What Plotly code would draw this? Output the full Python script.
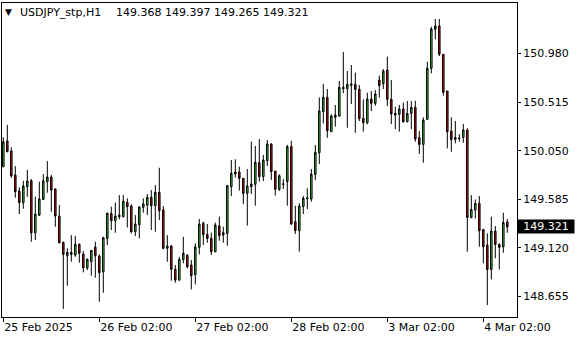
import plotly.graph_objects as go

# H1 bars of USDJPY_stp, 25 Feb 2025 02:00 .. 4 Mar 2025 08:00 (127 bars)
opens = [149.897,150.143,150.047,149.817,149.664,149.553,149.706,149.763,149.265,149.434,
         149.584,149.753,149.798,149.683,149.425,149.173,149.045,149.058,149.052,149.154,
         149.061,148.930,148.988,149.128,149.042,148.892,149.211,149.450,149.380,149.419,
         149.419,149.556,149.521,149.275,149.342,149.508,149.530,149.604,149.524,149.651,
         149.482,149.116,149.138,148.915,148.812,149.010,149.052,148.956,148.864,149.125,
         149.355,149.249,149.212,149.084,149.330,149.266,149.259,149.706,149.827,149.846,
         149.786,149.642,149.706,149.729,149.936,149.802,149.955,150.114,149.856,149.681,
         149.729,149.754,150.089,149.371,149.285,149.515,149.591,149.588,149.823,150.031,
         150.423,150.560,150.232,150.369,150.382,150.656,150.643,150.688,150.685,150.637,
         150.359,150.318,150.544,150.503,150.726,150.691,150.822,150.541,150.407,150.398,
         150.449,150.327,150.407,150.465,150.174,150.110,150.350,150.838,151.211,151.243,
         150.972,150.621,150.238,150.158,150.165,150.177,150.248,149.412,149.482,149.546,
         149.297,149.147,148.914,149.281,149.153,149.131,149.368]
highs = [150.178,150.296,150.082,149.903,149.699,149.763,149.865,149.779,149.610,149.753,
         149.827,149.951,149.817,149.690,149.530,149.179,149.116,149.243,149.234,149.163,
         149.090,149.020,149.100,149.179,149.058,149.227,149.460,149.514,149.553,149.626,
         149.626,149.594,149.537,149.434,149.521,149.594,149.635,149.674,149.722,149.887,
         149.521,149.243,149.147,148.956,149.036,149.227,149.058,149.004,149.163,149.396,
         149.371,149.348,149.266,149.362,149.419,149.323,149.722,149.961,149.968,149.897,
         149.786,149.875,150.137,150.095,150.162,150.009,150.153,150.121,149.856,149.824,
         149.779,150.105,150.146,149.524,149.547,149.617,149.690,149.875,150.104,150.560,
         150.688,150.640,150.398,150.487,150.717,150.994,150.812,150.870,150.796,150.678,
         150.541,150.605,150.621,150.630,150.768,150.831,150.949,150.726,150.471,150.487,
         150.512,150.525,150.525,150.528,150.238,150.369,150.902,151.236,151.310,151.310,
         150.972,150.621,150.369,150.334,150.209,150.305,150.264,149.626,149.584,149.616,
         149.297,149.259,149.418,149.329,149.163,149.457,149.397]
lows = [149.891,150.034,149.792,149.600,149.444,149.495,149.610,149.179,149.195,149.425,
        149.578,149.648,149.466,149.323,149.163,148.535,148.758,148.988,149.036,148.978,
        148.886,148.908,148.854,148.835,148.605,148.691,149.147,149.291,149.265,149.393,
        149.412,149.316,149.259,149.233,149.211,149.457,149.434,149.291,149.275,149.387,
        149.106,148.988,148.806,148.787,148.806,148.972,148.924,148.723,148.771,149.058,
        149.147,149.170,149.052,149.078,149.189,149.170,149.141,149.617,149.792,149.668,
        149.540,149.333,149.636,149.524,149.754,149.760,149.904,149.770,149.620,149.665,
        149.684,149.524,149.339,149.253,149.084,149.444,149.492,149.562,149.769,149.922,
        150.311,150.174,150.232,150.280,150.375,150.599,150.270,150.496,150.222,150.334,
        150.232,150.302,150.429,150.480,150.557,150.640,150.477,150.305,150.257,150.232,
        150.318,150.321,150.257,150.136,150.018,149.935,150.343,150.790,151.115,150.956,
        150.576,150.072,150.040,150.120,150.136,150.126,149.083,149.402,149.402,149.131,
        148.972,148.573,148.819,149.020,148.914,149.074,149.265]
closes = [150.136,150.041,149.808,149.658,149.553,149.712,149.760,149.265,149.444,149.588,
          149.760,149.798,149.674,149.425,149.170,149.058,149.077,149.077,149.154,149.068,
          148.930,149.010,149.096,149.045,148.883,149.218,149.450,149.380,149.425,149.434,
          149.568,149.514,149.275,149.348,149.511,149.540,149.604,149.524,149.651,149.476,
          149.116,149.138,148.915,148.812,149.010,149.068,148.940,148.854,149.128,149.348,
          149.246,149.211,149.084,149.339,149.237,149.244,149.716,149.834,149.846,149.786,
          149.642,149.712,149.732,149.939,149.802,149.961,150.114,149.850,149.681,149.811,
          149.731,150.089,149.349,149.285,149.521,149.594,149.597,149.827,150.034,150.429,
          150.560,150.241,150.382,150.391,150.656,150.643,150.685,150.675,150.637,150.356,
          150.318,150.544,150.503,150.592,150.672,150.812,150.541,150.401,150.391,150.449,
          150.327,150.407,150.465,150.162,150.110,150.343,150.838,151.214,151.243,150.972,
          150.608,150.232,150.158,150.177,150.171,150.248,149.412,149.488,149.546,149.284,
          149.131,148.914,149.281,149.153,149.125,149.364,149.321]

bar_index = list(range(len(opens)))
date_tick_bars = [0, 24, 48, 72, 96, 120]
date_tick_labels = ["25 Feb 2025", "26 Feb 02:00", "27 Feb 02:00",
                    "28 Feb 02:00", "3 Mar 02:00", "4 Mar 02:00"]
price_ticks = [148.655, 149.120, 149.585, 150.050, 150.515, 150.980]
symbol = "USDJPY_stp,H1"
last_price = closes[-1]

FONT = "DejaVu Sans"

fig = go.Figure()
fig.add_trace(go.Candlestick(
    x=bar_index, open=opens, high=highs, low=lows, close=closes,
    increasing=dict(fillcolor="#2EDC2E", line=dict(color="black", width=1)),
    decreasing=dict(fillcolor="#DD0000", line=dict(color="black", width=1)),
    whiskerwidth=0, hoverinfo="skip", showlegend=False,
))

fig.update_layout(
    width=580, height=340,
    margin=dict(l=2, r=63, t=3, b=23),
    paper_bgcolor="white", plot_bgcolor="white",
    boxgap=0.45,
    showlegend=False,
    font=dict(family=FONT, size=11, color="black"),
)
fig.update_xaxes(
    range=[-0.325, 128.425], rangeslider_visible=False,
    tickmode="array", tickvals=date_tick_bars, ticktext=date_tick_labels,
    ticks="outside", ticklen=4, tickcolor="black", tickwidth=1,
    ticklabelposition="outside right",
    showgrid=False, zeroline=False,
    showline=True, linecolor="black", linewidth=1, mirror=True,
    tickfont=dict(family=FONT, size=11, color="black"),
)
fig.update_yaxes(
    range=[148.459, 151.463], side="right",
    tickmode="array", tickvals=price_ticks,
    ticktext=[f"{v:.3f}" for v in price_ticks],
    ticks="outside", ticklen=3, tickcolor="black", tickwidth=1,
    showgrid=False, zeroline=False,
    showline=True, linecolor="black", linewidth=1, mirror=True,
    tickfont=dict(family=FONT, size=11, color="black"),
)

# header line
fig.add_annotation(xref="paper", yref="paper", x=0, y=0.9713, xanchor="left", yanchor="middle",
                   xshift=1, text="▼", showarrow=False, font=dict(family=FONT, size=9, color="black"))
fig.add_annotation(xref="paper", yref="paper", x=0, y=0.9713, xanchor="left", yanchor="middle",
                   xshift=16, text=symbol, showarrow=False, font=dict(family=FONT, size=11, color="black"))
fig.add_annotation(xref="paper", yref="paper", x=0, y=0.9713, xanchor="left", yanchor="middle",
                   xshift=112,
                   text=f"{opens[-1]:.3f} {highs[-1]:.3f} {lows[-1]:.3f} {closes[-1]:.3f}",
                   showarrow=False, font=dict(family=FONT, size=11, color="black"))

# current price label
fig.add_annotation(xref="paper", yref="y", x=1, y=last_price, xanchor="left", yanchor="middle",
                   text=f"{last_price:.3f}", showarrow=False, bgcolor="black",
                   width=54, height=11, borderpad=1, align="center",
                   font=dict(family=FONT, size=11, color="white"))

fig.write_html("out.html")
